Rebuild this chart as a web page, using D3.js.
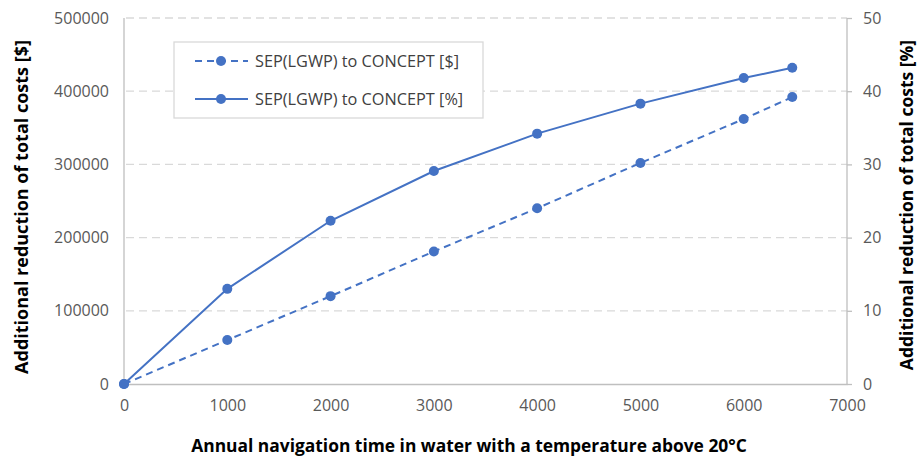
<!DOCTYPE html>
<html><head><meta charset="utf-8">
<script src="https://cdn.jsdelivr.net/npm/d3@7"></script>
<style>
body{margin:0;background:#fff;}
text{font-family:"Open Sans","Noto Sans",sans-serif;}
</style></head>
<body><svg id="c" width="921" height="459"></svg>
<script>
const xValues = [0, 1000, 2000, 3000, 4000, 5000, 6000, 6470];
const costUSD = [0, 60000, 120000, 181000, 240000, 302000, 362000, 392000];
const costPct = [0, 13.0, 22.3, 29.1, 34.2, 38.3, 41.8, 43.2];
const xTicks = [0, 1000, 2000, 3000, 4000, 5000, 6000, 7000];
const yLeftTicks = [0, 100000, 200000, 300000, 400000, 500000];
const yRightTicks = [0, 10, 20, 30, 40, 50];
const seriesNames = ["SEP(LGWP) to CONCEPT [$]", "SEP(LGWP) to CONCEPT [%]"];

const svg = d3.select("#c");
const L = 124, R = 847, T = 18, B = 384;
const color = "#4472C4";
const x = d3.scaleLinear().domain([0, 7000]).range([L, R]);
const yL = d3.scaleLinear().domain([0, 500000]).range([B, T]);
const yR = d3.scaleLinear().domain([0, 50]).range([B, T]);

// gridlines
svg.append("g").selectAll("line").data(yLeftTicks.filter(d => d > 0)).join("line")
  .attr("x1", L + 2).attr("x2", R).attr("y1", d => yL(d)).attr("y2", d => yL(d))
  .attr("stroke", "#d9d9d9").attr("stroke-width", 1.3).attr("stroke-dasharray", "8,5");

// axes
const axL = svg.append("g").attr("transform", `translate(${L},0)`)
  .call(d3.axisLeft(yL).tickValues(yLeftTicks).tickFormat(d3.format("d")).tickSize(0).tickPadding(15));
const axR = svg.append("g").attr("transform", `translate(${R},0)`)
  .call(d3.axisRight(yR).tickValues(yRightTicks).tickFormat(d3.format("d")).tickSize(5).tickPadding(11));
const axB = svg.append("g").attr("transform", `translate(0,${B})`)
  .call(d3.axisBottom(x).tickValues(xTicks).tickFormat(d3.format("d")).tickSize(0).tickPadding(16));
[axL, axR, axB].forEach(a => {
  a.select(".domain").attr("stroke", "#bfbfbf").attr("stroke-width", 1.3);
  a.selectAll(".tick line").attr("stroke", "#bfbfbf").attr("stroke-width", 1.3);
  a.selectAll("text").attr("fill", "#595959").attr("font-size", 16).style("font-family", '"Open Sans",sans-serif');
});
axL.select(".domain").attr("d", `M0,${B}V${T}`);
axR.select(".domain").attr("d", `M0,${B}V${T}`);

// lines
const lineUSD = d3.line().x((d, i) => x(xValues[i])).y(d => yL(d));
const linePct = d3.line().x((d, i) => x(xValues[i])).y(d => yR(d));
svg.append("path").attr("d", lineUSD(costUSD)).attr("fill", "none").attr("stroke", color)
  .attr("stroke-width", 2).attr("stroke-dasharray", "7,5");
svg.append("path").attr("d", linePct(costPct)).attr("fill", "none").attr("stroke", color)
  .attr("stroke-width", 2);
svg.append("g").selectAll("circle").data(costUSD).join("circle")
  .attr("cx", (d, i) => x(xValues[i])).attr("cy", d => yL(d)).attr("r", 5).attr("fill", color);
svg.append("g").selectAll("circle").data(costPct).join("circle")
  .attr("cx", (d, i) => x(xValues[i])).attr("cy", d => yR(d)).attr("r", 5).attr("fill", color);

// legend
const lg = svg.append("g");
lg.append("rect").attr("x", 174).attr("y", 42).attr("width", 309).attr("height", 76)
  .attr("fill", "#fff").attr("stroke", "#d9d9d9").attr("stroke-width", 1.3);
seriesNames.forEach((name, i) => {
  const yy = 61 + i * 38;
  lg.append("line").attr("x1", 195).attr("x2", 248).attr("y1", yy).attr("y2", yy)
    .attr("stroke", color).attr("stroke-width", 2).attr("stroke-dasharray", i === 0 ? "7,5" : null);
  lg.append("circle").attr("cx", 221).attr("cy", yy).attr("r", 5).attr("fill", color);
  lg.append("text").attr("x", 255).attr("y", yy).attr("dy", "0.35em").attr("font-size", 16.3)
    .attr("fill", "#404040").text(name);
});

// titles
svg.append("text").attr("transform", `translate(22,207) rotate(-90)`).attr("text-anchor", "middle")
  .attr("dy", "0.35em").attr("font-size", 18).attr("font-weight", "bold").attr("fill", "#000")
  .text("Additional reduction of total costs [$]");
svg.append("text").attr("transform", `translate(907,205) rotate(-90)`).attr("text-anchor", "middle")
  .attr("dy", "0.35em").attr("font-size", 17.5).attr("font-weight", "bold").attr("fill", "#000")
  .text("Additional reduction of total costs [%]");
svg.append("text").attr("x", 469).attr("y", 446).attr("dy", "0.35em").attr("text-anchor", "middle")
  .attr("font-size", 17.4).attr("font-weight", "bold").attr("fill", "#000")
  .text("Annual navigation time in water with a temperature above 20°C");
</script></body></html>
